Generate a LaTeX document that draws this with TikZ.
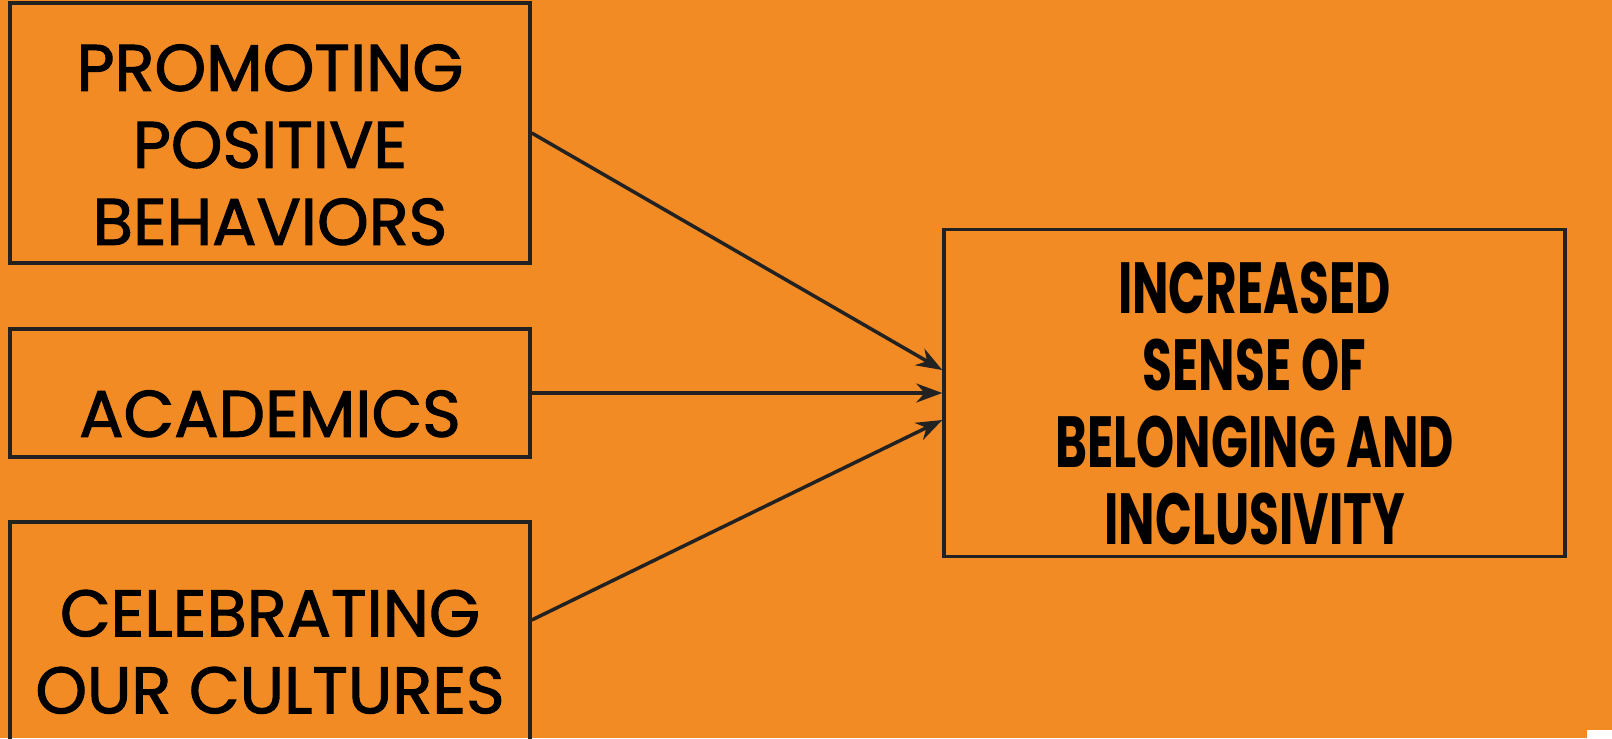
\documentclass[tikz,border=0pt]{standalone}
\usepackage{fontspec}
\setmainfont{Poppins}[FakeBold=1.6]
\newfontfamily\goalfont{Poppins}[FakeStretch=0.67]
\usepackage{tikz}
\usetikzlibrary{arrows.meta,calc,positioning}
\definecolor{myorange}{HTML}{F28B24}
\definecolor{myline}{HTML}{222222}
\newcommand{\drop}[1]{\rule{0pt}{#1}}
\tikzset{%
  arrow/.style={line width=0.035cm,color=myline,-{Stealth[length=0.26cm,width=0.19cm]}},
  block/.style={rectangle,draw=myline,line width=0.035cm,align=center,minimum width=5.2cm,
    font=\fontsize{18.7}{21.9}\selectfont,text=black},
  goalblock/.style={block,minimum width=6.21cm,minimum height=3.2cm,
    font=\fontsize{20.6}{21.9}\selectfont\goalfont\bfseries},
}

\begin{document}
\begin{tikzpicture}
      \useasboundingbox (0,0) rectangle (16.12,7.38);
      \fill[myorange] (0,0) rectangle (16.12,7.38);
      \begin{scope}
      \clip (0,0) rectangle (16.12,7.38);

      \node[block,minimum height=2.6cm] (node_behaviors) at (2.70,6.05) {\drop{0.70cm}PROMOTING\\POSITIVE\\BEHAVIORS};
      \node[block,minimum height=1.28cm] (node_academics) at (2.70,3.45) {\drop{0.88cm}ACADEMICS};
      \node[block,minimum height=2.36cm] (node_cultures) at (2.70,0.98) {\drop{0.70cm}CELEBRATING\\OUR CULTURES};

      \node[goalblock] (node_belonging) at (12.545,3.45) {\drop{0.72cm}INCREASED\\SENSE OF\\BELONGING AND\\INCLUSIVITY};
      \end{scope}

      \draw[arrow] (node_behaviors.east) -- ([yshift=0.23cm]node_belonging.west);
      \draw[arrow] (node_academics.east) -- (node_belonging.west);
      \draw[arrow] ([yshift=0.20cm]node_cultures.east) -- ([yshift=-0.27cm]node_belonging.west);

      \fill[white] (15.87,0) rectangle (16.12,0.08);
    \end{tikzpicture}
\end{document}
